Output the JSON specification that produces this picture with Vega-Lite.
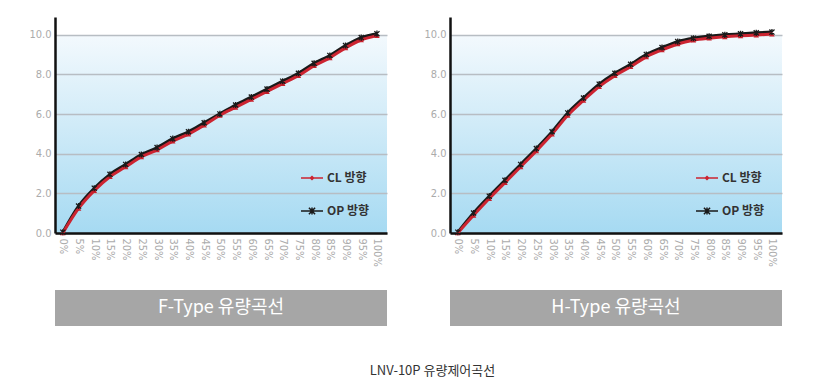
{
  "$schema": "https://vega.github.io/schema/vega-lite/v6.json",
  "background": "white",
  "padding": {"left": 28, "top": 17, "right": 5, "bottom": 5},
  "config": {
    "font": "Liberation Sans Narrow, DejaVu Sans Condensed, sans-serif",
    "view": {"stroke": null},
    "axis": {"domainColor": "#111111", "domainWidth": 2.5, "ticks": false, "labelColor": "#ababab", "labelFont": "Liberation Sans Narrow, DejaVu Sans Condensed, sans-serif", "title": null},
    "axisY": {"grid": true, "gridColor": "#b7bdc3", "gridWidth": 1.5, "labelFontSize": 11, "labelPadding": 4, "values": [0, 2, 4, 6, 8, 10], "format": ".1f"},
    "legend": {
      "orient": "none", "legendX": 245, "legendY": 149, "title": null, "padding": 0,
      "labelFont": "Noto Sans CJK KR", "labelFontSize": 12, "labelFontWeight": "bold", "labelColor": "#333333",
      "symbolSize": 484, "symbolStrokeWidth": 1.5, "rowPadding": 15, "labelOffset": 3
    }
  },
  "datasets": {
    "f": [
      {"pct": 0, "s": "OP 방향", "v": 0.04}, {"pct": 5, "s": "OP 방향", "v": 1.36}, {"pct": 10, "s": "OP 방향", "v": 2.26}, {"pct": 15, "s": "OP 방향", "v": 2.96}, {"pct": 20, "s": "OP 방향", "v": 3.46}, {"pct": 25, "s": "OP 방향", "v": 3.96}, {"pct": 30, "s": "OP 방향", "v": 4.31}, {"pct": 35, "s": "OP 방향", "v": 4.76}, {"pct": 40, "s": "OP 방향", "v": 5.11}, {"pct": 45, "s": "OP 방향", "v": 5.56}, {"pct": 50, "s": "OP 방향", "v": 6.01}, {"pct": 55, "s": "OP 방향", "v": 6.46}, {"pct": 60, "s": "OP 방향", "v": 6.86}, {"pct": 65, "s": "OP 방향", "v": 7.26}, {"pct": 70, "s": "OP 방향", "v": 7.66}, {"pct": 75, "s": "OP 방향", "v": 8.06}, {"pct": 80, "s": "OP 방향", "v": 8.56}, {"pct": 85, "s": "OP 방향", "v": 8.96}, {"pct": 90, "s": "OP 방향", "v": 9.46}, {"pct": 95, "s": "OP 방향", "v": 9.86}, {"pct": 100, "s": "OP 방향", "v": 10.06},
      {"pct": 0, "s": "CL 방향", "v": 0}, {"pct": 5, "s": "CL 방향", "v": 1.24}, {"pct": 10, "s": "CL 방향", "v": 2.14}, {"pct": 15, "s": "CL 방향", "v": 2.84}, {"pct": 20, "s": "CL 방향", "v": 3.34}, {"pct": 25, "s": "CL 방향", "v": 3.84}, {"pct": 30, "s": "CL 방향", "v": 4.19}, {"pct": 35, "s": "CL 방향", "v": 4.64}, {"pct": 40, "s": "CL 방향", "v": 4.99}, {"pct": 45, "s": "CL 방향", "v": 5.44}, {"pct": 50, "s": "CL 방향", "v": 5.94}, {"pct": 55, "s": "CL 방향", "v": 6.34}, {"pct": 60, "s": "CL 방향", "v": 6.74}, {"pct": 65, "s": "CL 방향", "v": 7.14}, {"pct": 70, "s": "CL 방향", "v": 7.54}, {"pct": 75, "s": "CL 방향", "v": 7.94}, {"pct": 80, "s": "CL 방향", "v": 8.44}, {"pct": 85, "s": "CL 방향", "v": 8.84}, {"pct": 90, "s": "CL 방향", "v": 9.34}, {"pct": 95, "s": "CL 방향", "v": 9.74}, {"pct": 100, "s": "CL 방향", "v": 9.96}
    ],
    "h": [
      {"pct": 0, "s": "OP 방향", "v": 0.04}, {"pct": 5, "s": "OP 방향", "v": 1.01}, {"pct": 10, "s": "OP 방향", "v": 1.86}, {"pct": 15, "s": "OP 방향", "v": 2.66}, {"pct": 20, "s": "OP 방향", "v": 3.46}, {"pct": 25, "s": "OP 방향", "v": 4.26}, {"pct": 30, "s": "OP 방향", "v": 5.11}, {"pct": 35, "s": "OP 방향", "v": 6.06}, {"pct": 40, "s": "OP 방향", "v": 6.81}, {"pct": 45, "s": "OP 방향", "v": 7.51}, {"pct": 50, "s": "OP 방향", "v": 8.06}, {"pct": 55, "s": "OP 방향", "v": 8.51}, {"pct": 60, "s": "OP 방향", "v": 9.01}, {"pct": 65, "s": "OP 방향", "v": 9.36}, {"pct": 70, "s": "OP 방향", "v": 9.66}, {"pct": 75, "s": "OP 방향", "v": 9.83}, {"pct": 80, "s": "OP 방향", "v": 9.93}, {"pct": 85, "s": "OP 방향", "v": 10.0}, {"pct": 90, "s": "OP 방향", "v": 10.05}, {"pct": 95, "s": "OP 방향", "v": 10.1}, {"pct": 100, "s": "OP 방향", "v": 10.14},
      {"pct": 0, "s": "CL 방향", "v": 0}, {"pct": 5, "s": "CL 방향", "v": 0.89}, {"pct": 10, "s": "CL 방향", "v": 1.74}, {"pct": 15, "s": "CL 방향", "v": 2.54}, {"pct": 20, "s": "CL 방향", "v": 3.34}, {"pct": 25, "s": "CL 방향", "v": 4.14}, {"pct": 30, "s": "CL 방향", "v": 4.99}, {"pct": 35, "s": "CL 방향", "v": 5.94}, {"pct": 40, "s": "CL 방향", "v": 6.69}, {"pct": 45, "s": "CL 방향", "v": 7.39}, {"pct": 50, "s": "CL 방향", "v": 7.94}, {"pct": 55, "s": "CL 방향", "v": 8.39}, {"pct": 60, "s": "CL 방향", "v": 8.89}, {"pct": 65, "s": "CL 방향", "v": 9.24}, {"pct": 70, "s": "CL 방향", "v": 9.54}, {"pct": 75, "s": "CL 방향", "v": 9.73}, {"pct": 80, "s": "CL 방향", "v": 9.83}, {"pct": 85, "s": "CL 방향", "v": 9.9}, {"pct": 90, "s": "CL 방향", "v": 9.95}, {"pct": 95, "s": "CL 방향", "v": 9.99}, {"pct": 100, "s": "CL 방향", "v": 10.04}
    ]
  },
  "title": {"text": "LNV-10P 유량제어곡선", "orient": "bottom", "anchor": "middle", "font": "Noto Sans CJK KR", "fontSize": 13, "fontWeight": "normal", "color": "#333333", "offset": 39, "dx": 27},
  "spacing": 36,
  "resolve": {"scale": {"color": "independent", "x": "independent", "y": "independent"}, "legend": {"color": "independent"}},
  "hconcat": [
    {
      "spacing": 23,
      "vconcat": [
        {
          "width": 332, "height": 216,
          "view": {"stroke": null, "fill": {"gradient": "linear", "x1": 0, "y1": 0, "x2": 0, "y2": 1, "stops": [{"offset": 0, "color": "#ffffff"}, {"offset": 0.082, "color": "#ffffff"}, {"offset": 0.083, "color": "#f3f9fd"}, {"offset": 1, "color": "#a6daf2"}]}},
          "data": {"name": "f"},
          "encoding": {
            "x": {"field": "pct", "type": "quantitative", "scale": {"domain": [-2.5, 103.2], "nice": false, "zero": false},
              "axis": {"grid": false, "labelAngle": 90, "labelAlign": "left", "labelBaseline": "middle", "labelFontSize": 11, "labelPadding": 5, "labelOverlap": false, "labelSeparation": 0, "labelBound": false, "labelFlush": false, "values": [0, 5, 10, 15, 20, 25, 30, 35, 40, 45, 50, 55, 60, 65, 70, 75, 80, 85, 90, 95, 100], "labelExpr": "datum.value + '%'"}},
            "y": {"field": "v", "type": "quantitative", "scale": {"domain": [0, 10.9], "nice": false}}
          },
          "layer": [
            {
              "mark": {"type": "line", "interpolate": "monotone", "strokeWidth": 3},
              "encoding": {
                "color": {"field": "s", "type": "nominal", "scale": {"domain": ["CL 방향", "OP 방향"], "range": ["#cc2431", "#1a1a1a"]},
                  "legend": {"encode": {"symbols": {"update": {
                    "shape": {"signal": "datum.value === 'CL 방향' ? 'M-1,0H1M0,-0.14L0.14,0L0,0.14L-0.14,0Z' : 'M-1,0H1M-0.28,-0.3L0.28,0.3M-0.28,0.3L0.28,-0.3M0,-0.32V0.32'"},
                    "fill": {"signal": "datum.value === 'CL 방향' ? '#cc2431' : 'transparent'"}
                  }}}}
                }
              }
            },
            {
              "transform": [{"filter": "datum.s === 'CL 방향'"}],
              "mark": {"type": "point", "shape": "triangle-up", "filled": true, "color": "#c8202c", "size": 30, "opacity": 1},
              "encoding": {}
            },
            {
              "transform": [{"filter": "datum.s === 'OP 방향'"}],
              "mark": {"type": "point", "shape": "M-1,-1L1,1M-1,1L1,-1M0,-1.2L0,1.2", "filled": false, "color": "#1a1a1a", "size": 26, "strokeWidth": 1.3, "opacity": 1},
              "encoding": {}
            }
          ]
        },
        {
          "width": 332, "height": 36,
          "view": {"fill": "#a6a6a6", "stroke": null},
          "data": {"values": [{"t": "F-Type 유량곡선"}]},
          "mark": {"type": "text", "color": "#ffffff", "font": "Noto Sans CJK KR", "fontSize": 18, "fontWeight": "normal", "align": "center", "baseline": "middle"},
          "encoding": {"text": {"field": "t", "type": "nominal"}}
        }
      ]
    },
    {
      "spacing": 23,
      "vconcat": [
        {
          "width": 332, "height": 216,
          "view": {"stroke": null, "fill": {"gradient": "linear", "x1": 0, "y1": 0, "x2": 0, "y2": 1, "stops": [{"offset": 0, "color": "#ffffff"}, {"offset": 0.082, "color": "#ffffff"}, {"offset": 0.083, "color": "#f3f9fd"}, {"offset": 1, "color": "#a6daf2"}]}},
          "data": {"name": "h"},
          "encoding": {
            "x": {"field": "pct", "type": "quantitative", "scale": {"domain": [-2.5, 103.2], "nice": false, "zero": false},
              "axis": {"grid": false, "labelAngle": 90, "labelAlign": "left", "labelBaseline": "middle", "labelFontSize": 11, "labelPadding": 5, "labelOverlap": false, "labelSeparation": 0, "labelBound": false, "labelFlush": false, "values": [0, 5, 10, 15, 20, 25, 30, 35, 40, 45, 50, 55, 60, 65, 70, 75, 80, 85, 90, 95, 100], "labelExpr": "datum.value + '%'"}},
            "y": {"field": "v", "type": "quantitative", "scale": {"domain": [0, 10.9], "nice": false}}
          },
          "layer": [
            {
              "mark": {"type": "line", "interpolate": "monotone", "strokeWidth": 3},
              "encoding": {
                "color": {"field": "s", "type": "nominal", "scale": {"domain": ["CL 방향", "OP 방향"], "range": ["#cc2431", "#1a1a1a"]},
                  "legend": {"encode": {"symbols": {"update": {
                    "shape": {"signal": "datum.value === 'CL 방향' ? 'M-1,0H1M0,-0.14L0.14,0L0,0.14L-0.14,0Z' : 'M-1,0H1M-0.28,-0.3L0.28,0.3M-0.28,0.3L0.28,-0.3M0,-0.32V0.32'"},
                    "fill": {"signal": "datum.value === 'CL 방향' ? '#cc2431' : 'transparent'"}
                  }}}}
                }
              }
            },
            {
              "transform": [{"filter": "datum.s === 'CL 방향'"}],
              "mark": {"type": "point", "shape": "triangle-up", "filled": true, "color": "#c8202c", "size": 30, "opacity": 1},
              "encoding": {}
            },
            {
              "transform": [{"filter": "datum.s === 'OP 방향'"}],
              "mark": {"type": "point", "shape": "M-1,-1L1,1M-1,1L1,-1M0,-1.2L0,1.2", "filled": false, "color": "#1a1a1a", "size": 26, "strokeWidth": 1.3, "opacity": 1},
              "encoding": {}
            }
          ]
        },
        {
          "width": 332, "height": 36,
          "view": {"fill": "#a6a6a6", "stroke": null},
          "data": {"values": [{"t": "H-Type 유량곡선"}]},
          "mark": {"type": "text", "color": "#ffffff", "font": "Noto Sans CJK KR", "fontSize": 18, "fontWeight": "normal", "align": "center", "baseline": "middle"},
          "encoding": {"text": {"field": "t", "type": "nominal"}}
        }
      ]
    }
  ]
}
